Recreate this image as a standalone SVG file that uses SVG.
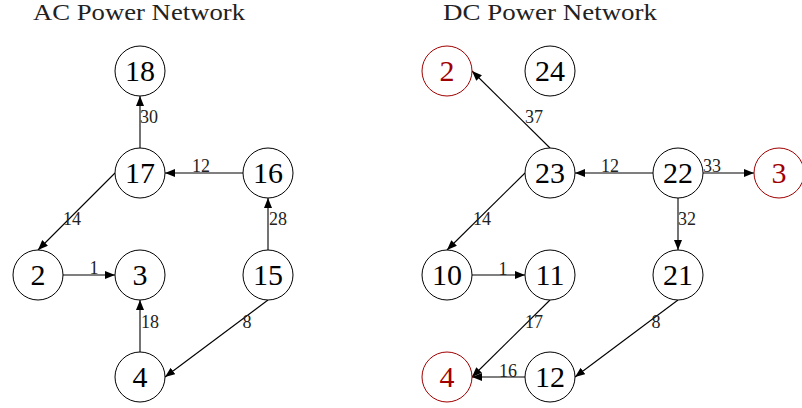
<svg xmlns="http://www.w3.org/2000/svg" width="802" height="408" viewBox="0 0 802 408">
<defs>
<marker id="ah" viewBox="0 0 10 8" markerWidth="10" markerHeight="8" refX="10" refY="4" orient="auto" markerUnits="userSpaceOnUse">
<path d="M0,0 L10,4 L0,8 z" fill="#000"/>
</marker>
</defs>
<style>
.title{font-family:"Liberation Serif",serif;font-size:23px;fill:#222;text-anchor:middle}
.node circle{fill:#fff;stroke:#000;stroke-width:1}
.node text{font-family:"Liberation Serif",serif;font-size:30px;fill:#000;text-anchor:middle}
.red circle{stroke:#a00000}
.red text{fill:#a00000}
.edges line{stroke:#000;stroke-width:1.1;marker-end:url(#ah)}
.lbl{font-family:"Liberation Serif",serif;font-size:18px;fill:#222;text-anchor:middle}
</style>
<rect width="802" height="408" fill="#fff"/>
<text class="title" x="139" y="20" textLength="212" lengthAdjust="spacingAndGlyphs">AC Power Network</text>
<text class="title" x="550" y="20" textLength="214" lengthAdjust="spacingAndGlyphs">DC Power Network</text>

<g id="connectors" class="edges">
<line x1="140" y1="148" x2="140" y2="96"/>
<line x1="243" y1="173" x2="165" y2="173"/>
<line x1="115" y1="173" x2="38" y2="250"/>
<line x1="63" y1="275" x2="115" y2="275"/>
<line x1="268" y1="250" x2="268" y2="198"/>
<line x1="140" y1="352" x2="140" y2="300"/>
<line x1="268" y1="300" x2="165" y2="377"/>
<line x1="550" y1="148" x2="472" y2="71"/>
<line x1="653" y1="173" x2="575" y2="173"/>
<line x1="703" y1="173" x2="754" y2="173"/>
<line x1="678" y1="198" x2="678" y2="250"/>
<line x1="525" y1="173" x2="447" y2="250"/>
<line x1="472" y1="275" x2="525" y2="275"/>
<line x1="550" y1="300" x2="472" y2="377"/>
<line x1="678" y1="300" x2="575" y2="377"/>
<line x1="525" y1="377" x2="472" y2="377"/>
</g>

<g id="edge-labels">
<text class="lbl" x="149" y="123">30</text>
<text class="lbl" x="201" y="172">12</text>
<text class="lbl" x="72" y="225">14</text>
<text class="lbl" x="94" y="274">1</text>
<text class="lbl" x="278" y="225">28</text>
<text class="lbl" x="150" y="328">18</text>
<text class="lbl" x="247" y="328">8</text>
<text class="lbl" x="534" y="123">37</text>
<text class="lbl" x="610" y="172">12</text>
<text class="lbl" x="712" y="172">33</text>
<text class="lbl" x="687" y="225">32</text>
<text class="lbl" x="482" y="225">14</text>
<text class="lbl" x="503" y="275">1</text>
<text class="lbl" x="534" y="328">17</text>
<text class="lbl" x="656" y="328">8</text>
<text class="lbl" x="508" y="377">16</text>
</g>

<g id="ac18" class="node"><circle cx="140" cy="71" r="25"/><text x="140" y="81">18</text></g>
<g id="ac17" class="node"><circle cx="140" cy="173" r="25"/><text x="140" y="183">17</text></g>
<g id="ac16" class="node"><circle cx="268" cy="173" r="25"/><text x="268" y="183">16</text></g>
<g id="ac2" class="node"><circle cx="38" cy="275" r="25"/><text x="38" y="285">2</text></g>
<g id="ac3" class="node"><circle cx="140" cy="275" r="25"/><text x="140" y="285">3</text></g>
<g id="ac15" class="node"><circle cx="268" cy="275" r="25"/><text x="268" y="285">15</text></g>
<g id="ac4" class="node"><circle cx="140" cy="377" r="25"/><text x="140" y="387">4</text></g>

<g id="dc2" class="node red"><circle cx="447" cy="71" r="25"/><text x="447" y="81">2</text></g>
<g id="dc24" class="node"><circle cx="550" cy="71" r="25"/><text x="550" y="81">24</text></g>
<g id="dc23" class="node"><circle cx="550" cy="173" r="25"/><text x="550" y="183">23</text></g>
<g id="dc22" class="node"><circle cx="678" cy="173" r="25"/><text x="678" y="183">22</text></g>
<g id="dc3" class="node red"><circle cx="779" cy="173" r="25"/><text x="779" y="183">3</text></g>
<g id="dc10" class="node"><circle cx="447" cy="275" r="25"/><text x="447" y="285">10</text></g>
<g id="dc11" class="node"><circle cx="550" cy="275" r="25"/><text x="550" y="285">11</text></g>
<g id="dc21" class="node"><circle cx="678" cy="275" r="25"/><text x="678" y="285">21</text></g>
<g id="dc4" class="node red"><circle cx="447" cy="377" r="25"/><text x="447" y="387">4</text></g>
<g id="dc12" class="node"><circle cx="550" cy="377" r="25"/><text x="550" y="387">12</text></g>
</svg>
